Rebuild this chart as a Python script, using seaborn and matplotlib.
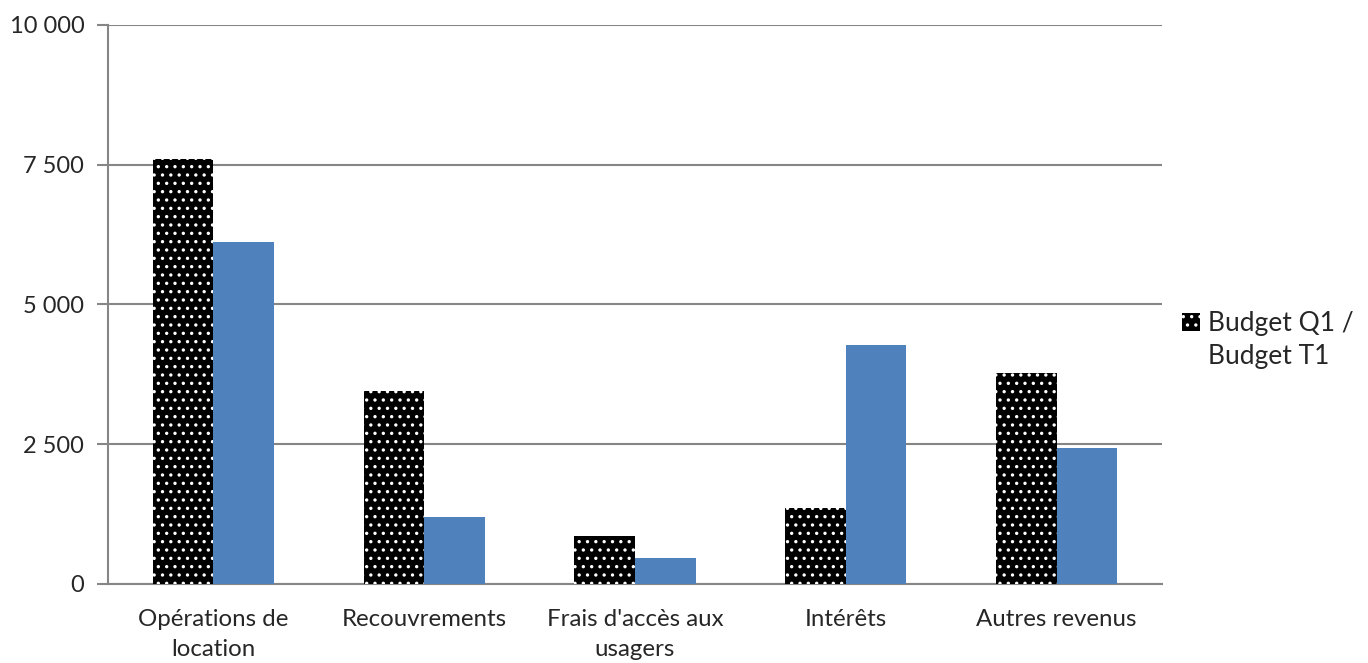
import pandas as pd
import matplotlib
matplotlib.use("Agg")
import matplotlib.pyplot as plt
import matplotlib.ticker as mticker
from matplotlib.patches import Patch
import seaborn as sns

categories = ["Opérations de\nlocation", "Recouvrements", "Frais d'accès aux\nusagers",
              "Intérêts", "Autres revenus"]
series_names = ["Budget Q1 /\nBudget T1", "Réel"]
budget_q1 = [7600, 3450, 860, 1360, 3775]
actual_q1 = [6120, 1200, 465, 4275, 2430]
y_ticks = [0, 2500, 5000, 7500, 10000]

df = pd.DataFrame({
    "categorie": categories * 2,
    "serie": [series_names[0]] * len(categories) + [series_names[1]] * len(categories),
    "valeur": budget_q1 + actual_q1,
})

sns.set_style("white")
plt.rcParams["font.family"] = ["Lato", "DejaVu Sans"]
plt.rcParams["hatch.linewidth"] = 1.2

fig = plt.figure(figsize=(13.68, 6.63), dpi=100)
ax = fig.add_axes([0.0789, 0.1192, 0.8494 - 0.0789, 0.9623 - 0.1192])

sns.barplot(data=df, x="categorie", y="valeur", hue="serie",
            palette=["black", "#4F81BD"], width=0.575, gap=0,
            saturation=1, legend=False, ax=ax, zorder=3)

n = len(categories)
for i, p in enumerate(ax.patches):
    if i < n:
        p.set_facecolor("black")
        p.set_edgecolor("white")
        p.set_hatch("..")
        p.set_linewidth(0)
    else:
        p.set_linewidth(0)

ax.set_ylim(0, 10000)
ax.set_xlim(-0.5, n - 0.5)
ax.set_yticks(y_ticks)
ax.yaxis.set_major_formatter(mticker.FuncFormatter(lambda v, _: f"{int(v):,}".replace(",", " ")))
ax.yaxis.grid(True, color="#868686", linewidth=1.5, zorder=0)
ax.set_axisbelow(True)

ax.set_xticks(range(n))
ax.set_xticklabels(categories, fontsize=17.3, linespacing=1.55)
ax.set_xticks([i - 0.5 for i in range(n + 1)], minor=True)
ax.tick_params(axis="x", which="major", length=0, pad=18)
ax.tick_params(axis="x", which="minor", length=8, width=1.5, color="#868686")
ax.tick_params(axis="y", length=8, width=1.5, color="#868686", labelsize=17, pad=9, left=True)
ax.set_xlabel("")
ax.set_ylabel("")

for s in ["top", "right"]:
    ax.spines[s].set_visible(False)
for s in ["left", "bottom"]:
    ax.spines[s].set_color("#868686")
    ax.spines[s].set_linewidth(1.5)

# legend: only the first series, two-line label aligned on the text column
line1, line2 = series_names[0].split("\n")
handle = Patch(facecolor="black", edgecolor="white", hatch="..", linewidth=0)
blank = Patch(visible=False)
fig.legend([handle, blank], [line1, line2], loc="center left",
           bbox_to_anchor=(0.847, 0.487), frameon=False, fontsize=19,
           handlelength=0.65, handleheight=0.65, handletextpad=0.3,
           labelspacing=0.3)

fig.savefig("out.png", dpi=100)
